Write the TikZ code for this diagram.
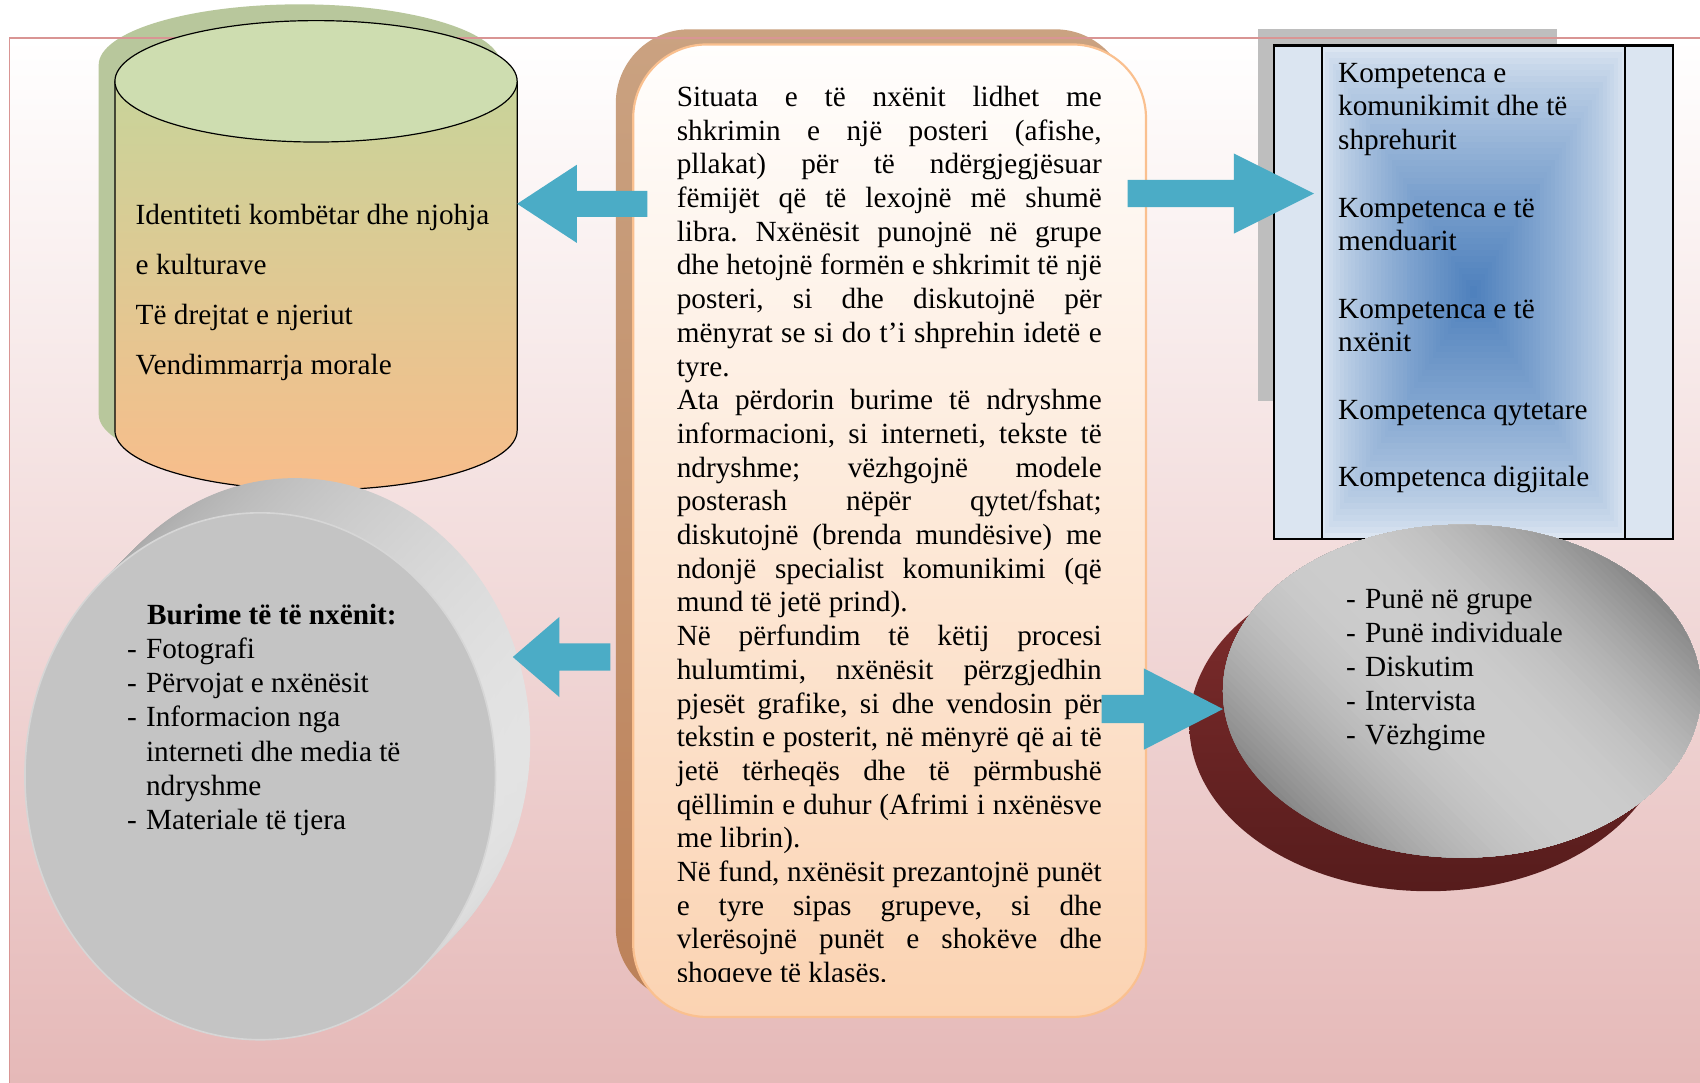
\documentclass[tikz,border=0pt]{standalone}
\usepackage{fontspec}
\setmainfont{Liberation Serif}
\usetikzlibrary{calc}
\definecolor{arrowblue}{HTML}{4BACC6}
\definecolor{bgpink}{HTML}{E5B8B7}
\definecolor{borderpink}{HTML}{D99594}
\definecolor{cylshadow}{HTML}{B8C79C}
\definecolor{cyltop}{HTML}{CEDDB0}
\definecolor{cylbodytop}{HTML}{C8D49A}
\definecolor{cylbodybot}{HTML}{F8BD8B}
\definecolor{boxshtop}{HTML}{CAA281}
\definecolor{boxshbot}{HTML}{BC8159}
\definecolor{boxtop}{HTML}{FFFEFD}
\definecolor{boxbot}{HTML}{FBD3B2}
\definecolor{boxline}{HTML}{FAC08F}
\definecolor{panelsh}{HTML}{BEBEBE}
\definecolor{panellight}{HTML}{DBE5F1}
\definecolor{paneldark}{HTML}{4F81BD}
\definecolor{discface}{HTML}{C4C4C4}
\definecolor{discedge}{HTML}{D6D6D6}
\definecolor{discrimL}{HTML}{9E9E9E}
\definecolor{discrimR}{HTML}{E3E3E3}
\definecolor{ovaldark}{HTML}{838383}
\definecolor{ovallight}{HTML}{CDCDCD}
\definecolor{redtop}{HTML}{822E2E}
\definecolor{redbot}{HTML}{561C1C}

% horizontal block arrow: tail, tip, shaft half-width, head length (signed), head half-width
\newcommand\drawblockarrow[5]{%
  \fill[arrowblue] ($(#1)+(0,-#3)$) -- ($(#2)+(#4,-#3)$) -- ($(#2)+(#4,-#5)$) -- (#2)
    -- ($(#2)+(#4,#5)$) -- ($(#2)+(#4,#3)$) -- ($(#1)+(0,#3)$) -- cycle;}

\begin{document}
\frenchspacing
\begin{tikzpicture}[x=1pt,y=-1pt,
  txt/.style={inner sep=0pt, anchor=base west}]
\useasboundingbox (0,0) rectangle (1568,998);
\fill[white] (0,0) rectangle (1568,998);
\shade[top color=white, bottom color=bgpink] (9,35) rectangle (1580,1010);

% ---- shadows
\fill[cylshadow] (91,60) -- (91,382)
  arc[start angle=180, end angle=0, x radius=185.5, y radius=55]
  -- (462,60) arc[start angle=0, end angle=-180, x radius=185.5, y radius=56] -- cycle;
\shade[top color=boxshtop, bottom color=boxshbot, rounded corners=68] (568,27) rectangle (1041,924);
\fill[panelsh] (1160,27) rectangle (1436,370);

% ---- frame line
\draw[borderpink, line width=1.3] (9,1010) -- (9,35) -- (1580,35);

% ---- cylinder
\shade[top color=cylbodytop, bottom color=cylbodybot, draw=black, line width=1.1]
  (106,75) -- (106,397) arc[start angle=180, end angle=0, x radius=185.5, y radius=55]
  -- (477,75) -- cycle;
\filldraw[fill=cyltop, draw=black, line width=1.1] (291.5,75) ellipse[x radius=185.5, y radius=56];
\node[txt] (cyltext) at (125,207.5) {\parbox[t]{345pt}{\fontsize{27}{46}\selectfont
Identiteti kombëtar dhe njohja\\
e kulturave\\
Të drejtat e njeriut\\
Vendimmarrja morale}};

% ---- central box
\shade[top color=boxtop, bottom color=boxbot, draw=boxline, line width=2, rounded corners=68]
  (584,41) rectangle (1057,938);
\begin{scope}
\clip (584,41) rectangle (1057,905.5);
\node[txt] (maintext) at (624,98.2) {\parbox[t]{392pt}{\fontsize{27}{31.08}\selectfont
\makebox[392pt][s]{Situata e të nxënit lidhet me}\\
\makebox[392pt][s]{shkrimin e një posteri (afishe,}\\
\makebox[392pt][s]{pllakat) për të ndërgjegjësuar}\\
\makebox[392pt][s]{fëmijët që të lexojnë më shumë}\\
\makebox[392pt][s]{libra. Nxënësit punojnë në grupe}\\
\makebox[392pt][s]{dhe hetojnë formën e shkrimit të një}\\
\makebox[392pt][s]{posteri, si dhe diskutojnë për}\\
\makebox[392pt][s]{mënyrat se si do t’i shprehin idetë e}\\
tyre.\\
\makebox[392pt][s]{Ata përdorin burime të ndryshme}\\
\makebox[392pt][s]{informacioni, si interneti, tekste të}\\
\makebox[392pt][s]{ndryshme; vëzhgojnë modele}\\
\makebox[392pt][s]{posterash nëpër qytet/fshat;}\\
\makebox[392pt][s]{diskutojnë (brenda mundësive) me}\\
\makebox[392pt][s]{ndonjë specialist komunikimi (që}\\
mund të jetë prind).\\
\makebox[392pt][s]{Në përfundim të këtij procesi}\\
\makebox[392pt][s]{hulumtimi, nxënësit përzgjedhin}\\
\makebox[392pt][s]{pjesët grafike, si dhe vendosin për}\\
\makebox[392pt][s]{tekstin e posterit, në mënyrë që ai të}\\
\makebox[392pt][s]{jetë tërheqës dhe të përmbushë}\\
\makebox[392pt][s]{qëllimin e duhur (Afrimi i nxënësve}\\
me librin).\\
\makebox[392pt][s]{Në fund, nxënësit prezantojnë punët}\\
\makebox[392pt][s]{e tyre sipas grupeve, si dhe}\\
\makebox[392pt][s]{vlerësojnë punët e shokëve dhe}\\
shoqeve të klasës.}};
\end{scope}

% ---- right panel (rectangular gradient in the middle column)
\fill[panellight] (1175,42) rectangle (1543,497);
\foreach \i in {0,...,40} {
  \pgfmathsetmacro\sc{1-\i/41}
  \pgfmathtruncatemacro\pc{100*(\i/40)^0.75}
  \fill[paneldark!\pc!panellight] (1359-140*\sc,269.5-227.5*\sc) rectangle (1359+140*\sc,269.5+227.5*\sc);
}
\draw[black, line width=2] (1175,42) rectangle (1543,497);
\draw[black, line width=1.6] (1219,42) -- (1219,497) (1499,42) -- (1499,497);
\node[txt] (comptext) at (1234,75.8) {\parbox[t]{265pt}{\fontsize{27}{31.1}\selectfont
Kompetenca e\\
komunikimit dhe të\\
shprehurit\\[31.1pt]
Kompetenca e të\\
menduarit\\[31.1pt]
Kompetenca e të\\
nxënit\\[31.1pt]
Kompetenca qytetare\\[31.1pt]
Kompetenca digjitale}};

% ---- left disc
\foreach \k in {0,...,31}
  \shade[left color=discrimL, right color=discrimR] (272-\k,684+\k) ellipse[x radius=217, y radius=243];
\filldraw[fill=discface, draw=discedge, line width=1.5] (240,716) ellipse[x radius=217, y radius=243];
\node[txt] (disctext) at (117,576) {\parbox[t]{330pt}{\fontsize{27}{31.5}\selectfont
\hspace*{18.5pt}\textbf{Burime të të nxënit:}\\
\makebox[17.5pt][l]{-}Fotografi\\
\makebox[17.5pt][l]{-}Përvojat e nxënësit\\
\makebox[17.5pt][l]{-}Informacion nga\\
\hspace*{17.5pt}interneti dhe media të\\
\hspace*{17.5pt}ndryshme\\
\makebox[17.5pt][l]{-}Materiale të tjera}};

% ---- right oval
\shade[top color=redtop, bottom color=redbot] (1317.5,668.5) ellipse[x radius=220.5, y radius=153.5];
\begin{scope}
\clip (1348.5,637.5) ellipse[x radius=220.5, y radius=153.5];
\begin{scope}[shift={(1348.5,637.5)}, rotate=45]
\foreach \i in {0,...,79} {
  \pgfmathsetmacro\tone{-200+5*\i}
  \pgfmathsetmacro\fr{min(1,abs(\tone+2.5)/195)}
  \pgfmathtruncatemacro\pc{100*(1-\fr*\fr)}
  \fill[ovallight!\pc!ovaldark] (\tone,-260) rectangle (300,260);
}
\end{scope}
\end{scope}
\node[txt] (ovaltext) at (1241.5,561) {\parbox[t]{300pt}{\fontsize{27}{31.5}\selectfont
\makebox[17.5pt][l]{-}Punë në grupe\\
\makebox[17.5pt][l]{-}Punë individuale\\
\makebox[17.5pt][l]{-}Diskutim\\
\makebox[17.5pt][l]{-}Intervista\\
\makebox[17.5pt][l]{-}Vëzhgime}};

% ---- block arrows
\coordinate (a1s) at (597,188);   \coordinate (a1e) at (477,188);
\coordinate (a2s) at (1040,178.5); \coordinate (a2e) at (1212,178.5);
\coordinate (a3s) at (563,606);   \coordinate (a3e) at (473,606);
\coordinate (a4s) at (1016,654);  \coordinate (a4e) at (1128,654);
\drawblockarrow{a1s}{a1e}{12}{55}{36}
\drawblockarrow{a2s}{a2e}{12.5}{-74}{37}
\drawblockarrow{a3s}{a3e}{12.5}{43}{37}
\drawblockarrow{a4s}{a4e}{13}{-73}{37.5}
\end{tikzpicture}
\end{document}
